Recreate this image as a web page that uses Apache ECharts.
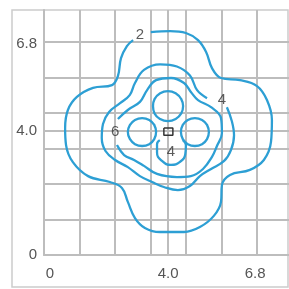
<!DOCTYPE html>
<html>
<head>
<meta charset="utf-8">
<script src="https://cdn.jsdelivr.net/npm/echarts@6/dist/echarts.min.js"></script>
<style>
    html, body { margin: 0; padding: 0; background: #fff; }
    #chart { width: 289px; height: 289px; }
</style>
</head>
<body>
<div id="chart"></div>
<script>
// grid lines and tick labels (axis units)
var gridTicks = [0, 1.143, 2.286, 3.429, 4.0, 4.571, 5.714, 6.857];
var tickLabels = [0, 4.0, 6.8];

// contour lines
var level2 = [[3.44,7.18],[4.06,7.21],[4.57,7.15],[4.96,6.92],[5.22,6.54],[5.41,6.02],[5.70,5.70],
    [6.31,5.63],[6.86,5.44],[7.18,4.99],[7.34,4.35],[7.31,3.64],[7.08,3.06],[6.63,2.74],[5.99,2.58],
    [5.73,2.25],[5.70,1.71],[5.47,1.26],[5.02,0.90],[4.51,0.74],[3.73,0.74],[3.25,0.87],[2.93,1.19],
    [2.70,1.71],[2.51,2.16],[2.12,2.35],[1.42,2.54],[0.93,2.99],[0.71,3.54],[0.68,4.09],[0.77,4.67],
    [1.06,5.09],[1.58,5.38],[2.19,5.47],[2.38,5.76],[2.48,6.34],[2.67,6.73],[2.87,6.92]];
var level4 = [[5.89,4.76],[6.05,4.31],[6.12,3.86],[6.02,3.38],[5.80,3.03],[5.38,2.77],[5.02,2.54],
    [4.70,2.22],[4.31,2.09],[3.86,2.19],[3.48,2.35],[3.09,2.54],[2.70,2.83],[2.29,3.06],[1.98,3.35],
    [1.86,3.77],[1.90,4.22],[2.09,4.60],[2.45,4.89],[2.76,5.15],[2.93,5.54],[3.22,5.96],[3.74,6.14],
    [4.28,6.07],[4.70,5.78],[4.93,5.31],[5.25,5.05]];
var level6 = [[2.35,3.54],[2.58,3.22],[2.90,3.06],[3.22,2.87],[3.64,2.61],[4.28,2.51],[4.73,2.54],
    [5.12,2.77],[5.41,3.16],[5.57,3.51],[5.73,3.93],[5.70,4.41],[5.38,4.76],[4.96,4.99],[4.73,5.25],
    [4.51,5.54],[4.09,5.70],[3.61,5.63],[3.32,5.31],[3.09,4.93],[2.70,4.67],[2.38,4.38]];
var topLobe = [[4.48,4.80],[4.42,5.02],[4.24,5.21],[3.99,5.28],[3.74,5.21],[3.56,5.02],[3.51,4.80],
    [3.56,4.56],[3.74,4.38],[3.99,4.31],[4.24,4.38],[4.42,4.56]];
var leftLobe = [[3.61,3.96],[3.55,4.19],[3.39,4.35],[3.16,4.41],[2.93,4.35],[2.77,4.19],[2.70,3.96],
    [2.77,3.73],[2.93,3.57],[3.16,3.51],[3.39,3.57],[3.55,3.73]];
var rightLobe = [[5.31,3.96],[5.25,4.19],[5.09,4.35],[4.86,4.41],[4.63,4.35],[4.47,4.19],[4.41,3.96],
    [4.47,3.73],[4.63,3.57],[4.86,3.51],[5.09,3.57],[5.25,3.73]];
var bottomArc = [[3.73,3.70],[3.64,3.57],[3.64,3.30],[3.80,3.03],[4.09,2.90],[4.38,3.00],[4.55,3.25],
    [4.57,3.54],[4.47,3.70]];
var centerBox = [[3.86,4.09],[4.15,4.09],[4.15,3.86],[3.86,3.86],[3.86,4.09]];

var contourLabels = [
    { value: [3.09, 7.08], text: '2' },
    { value: [5.73, 4.99], text: '4' },
    { value: [2.29, 3.96], text: '6' },
    { value: [4.09, 3.32], text: '4' }
];

function closed(pts) {
    return pts.concat([pts[0], pts[1]]);
}

var myChart = echarts.init(document.getElementById('chart'));

var lineColor = '#2d9fd4';
var gridColor = '#bdbdbd';

function contour(data, smooth) {
    return {
        type: 'line',
        data: data,
        smooth: smooth,
        showSymbol: false,
        silent: true,
        lineStyle: { color: lineColor, width: 2.3 }
    };
}

function axis(pos) {
    return {
        type: 'value',
        min: 0,
        max: 7.89,
        axisLine: { show: true, lineStyle: { color: gridColor, width: 2 } },
        axisTick: { show: false, customValues: gridTicks },
        splitLine: { show: true, lineStyle: { color: gridColor, width: 2 } },
        axisLabel: {
            customValues: tickLabels,
            color: '#555',
            fontSize: 15,
            fontFamily: 'Liberation Sans, Arial, sans-serif',
            margin: pos === 'x' ? 11 : 7,
            formatter: function (v) {
                if (v === 0) return pos === 'x' ? '{z|0}' : '0';
                return v.toFixed(1);
            },
            rich: { z: { padding: [0, 0, 0, 12], fontSize: 15, color: '#555' } }
        }
    };
}

var option = {
    animation: false,
    backgroundColor: '#fff',
    grid: { left: 44, right: 0, top: 10, bottom: 34 },
    xAxis: axis('x'),
    yAxis: axis('y'),
    graphic: [{
        type: 'rect',
        shape: { x: 12, y: 10, width: 276, height: 277 },
        style: { fill: null, stroke: '#cccccc', lineWidth: 1.5 },
        silent: true
    }],
    series: [
        contour(level2, 0.4),
        contour(level4, 0.4),
        contour(level6, 0.4),
        contour(closed(topLobe), 0.5),
        contour(closed(leftLobe), 0.5),
        contour(closed(rightLobe), 0.5),
        contour(bottomArc, 0.5),
        {
            type: 'line',
            data: centerBox,
            showSymbol: false,
            silent: true,
            lineStyle: { color: '#333', width: 1.5 }
        },
        {
            type: 'scatter',
            symbolSize: 0,
            silent: true,
            data: contourLabels.map(function (d) { return { value: d.value, name: d.text }; }),
            label: {
                show: true,
                position: 'inside',
                formatter: '{b}',
                color: '#333',
                fontSize: 15,
                fontFamily: 'Liberation Sans, Arial, sans-serif'
            }
        }
    ]
};

myChart.setOption(option);
</script>
</body>
</html>
